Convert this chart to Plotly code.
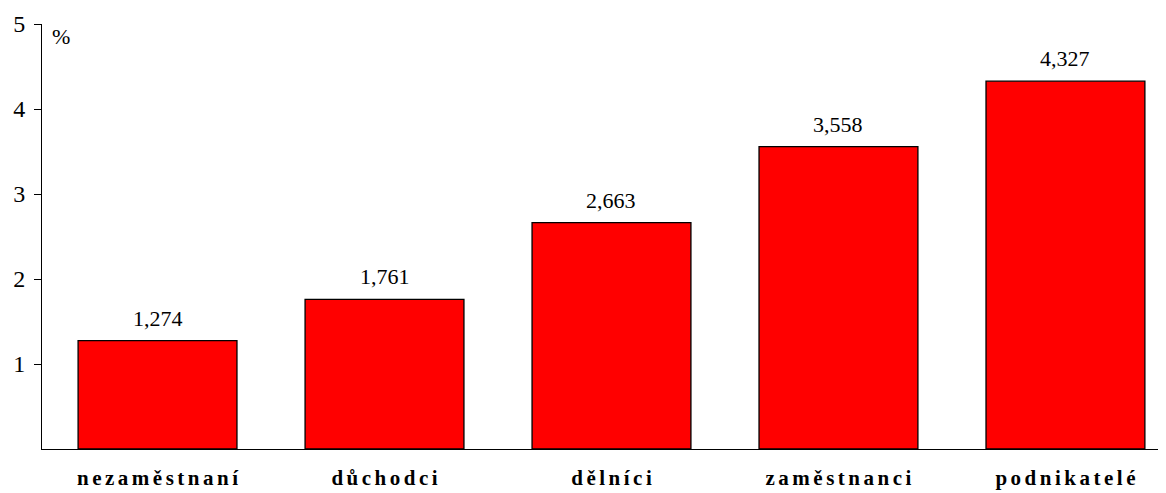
import plotly.graph_objects as go

# Data
categories = ['nezaměstnaní', 'důchodci', 'dělníci', 'zaměstnanci', 'podnikatelé']
values = [1.274, 1.761, 2.663, 3.558, 4.327]
y_ticks = [1, 2, 3, 4, 5]

SERIF = 'Liberation Serif'

# spread letters out a bit, like the original bold spaced labels
spaced = ['\u200a\u200a'.join(c) for c in categories]

fig = go.Figure()
fig.add_trace(go.Bar(
    x=categories, y=values,
    marker=dict(color='#ff0000', line=dict(color='black', width=1.3)),
    width=0.7,
))

# value labels above bars
for c, v in zip(categories, values):
    fig.add_annotation(x=c, y=v, text=f'{v:.3f}'.replace('.', ','),
                       showarrow=False, yanchor='bottom', yshift=8,
                       font=dict(size=22, color='black', family=SERIF))

fig.add_annotation(xref='paper', yref='paper', x=0.007, y=1.005, text='%',
                   showarrow=False, xanchor='left', yanchor='top',
                   font=dict(size=22, color='black', family=SERIF))

# page body has an 8px margin, so margins are shifted to compensate
fig.update_layout(
    width=1166, height=493,
    margin=dict(l=34, r=8, t=16, b=52),
    paper_bgcolor='white', plot_bgcolor='white',
    font=dict(family=SERIF, color='black'),
    showlegend=False,
    xaxis=dict(
        range=[-0.509, 4.443], automargin=False,
        tickvals=categories, ticktext=spaced,
        showline=True, linecolor='black', linewidth=1,
        ticks='', showgrid=False,
        tickfont=dict(size=21, family=SERIF, weight='bold'),
        ticklabelstandoff=10,
    ),
    yaxis=dict(
        range=[0, 5], tickvals=y_ticks, automargin=False,
        showline=True, linecolor='black', linewidth=1,
        ticks='outside', ticklen=7, tickcolor='black',
        showgrid=False, zeroline=False,
        tickfont=dict(size=24, family=SERIF),
        ticklabelstandoff=4,
    ),
)

fig.write_html('out.html')
